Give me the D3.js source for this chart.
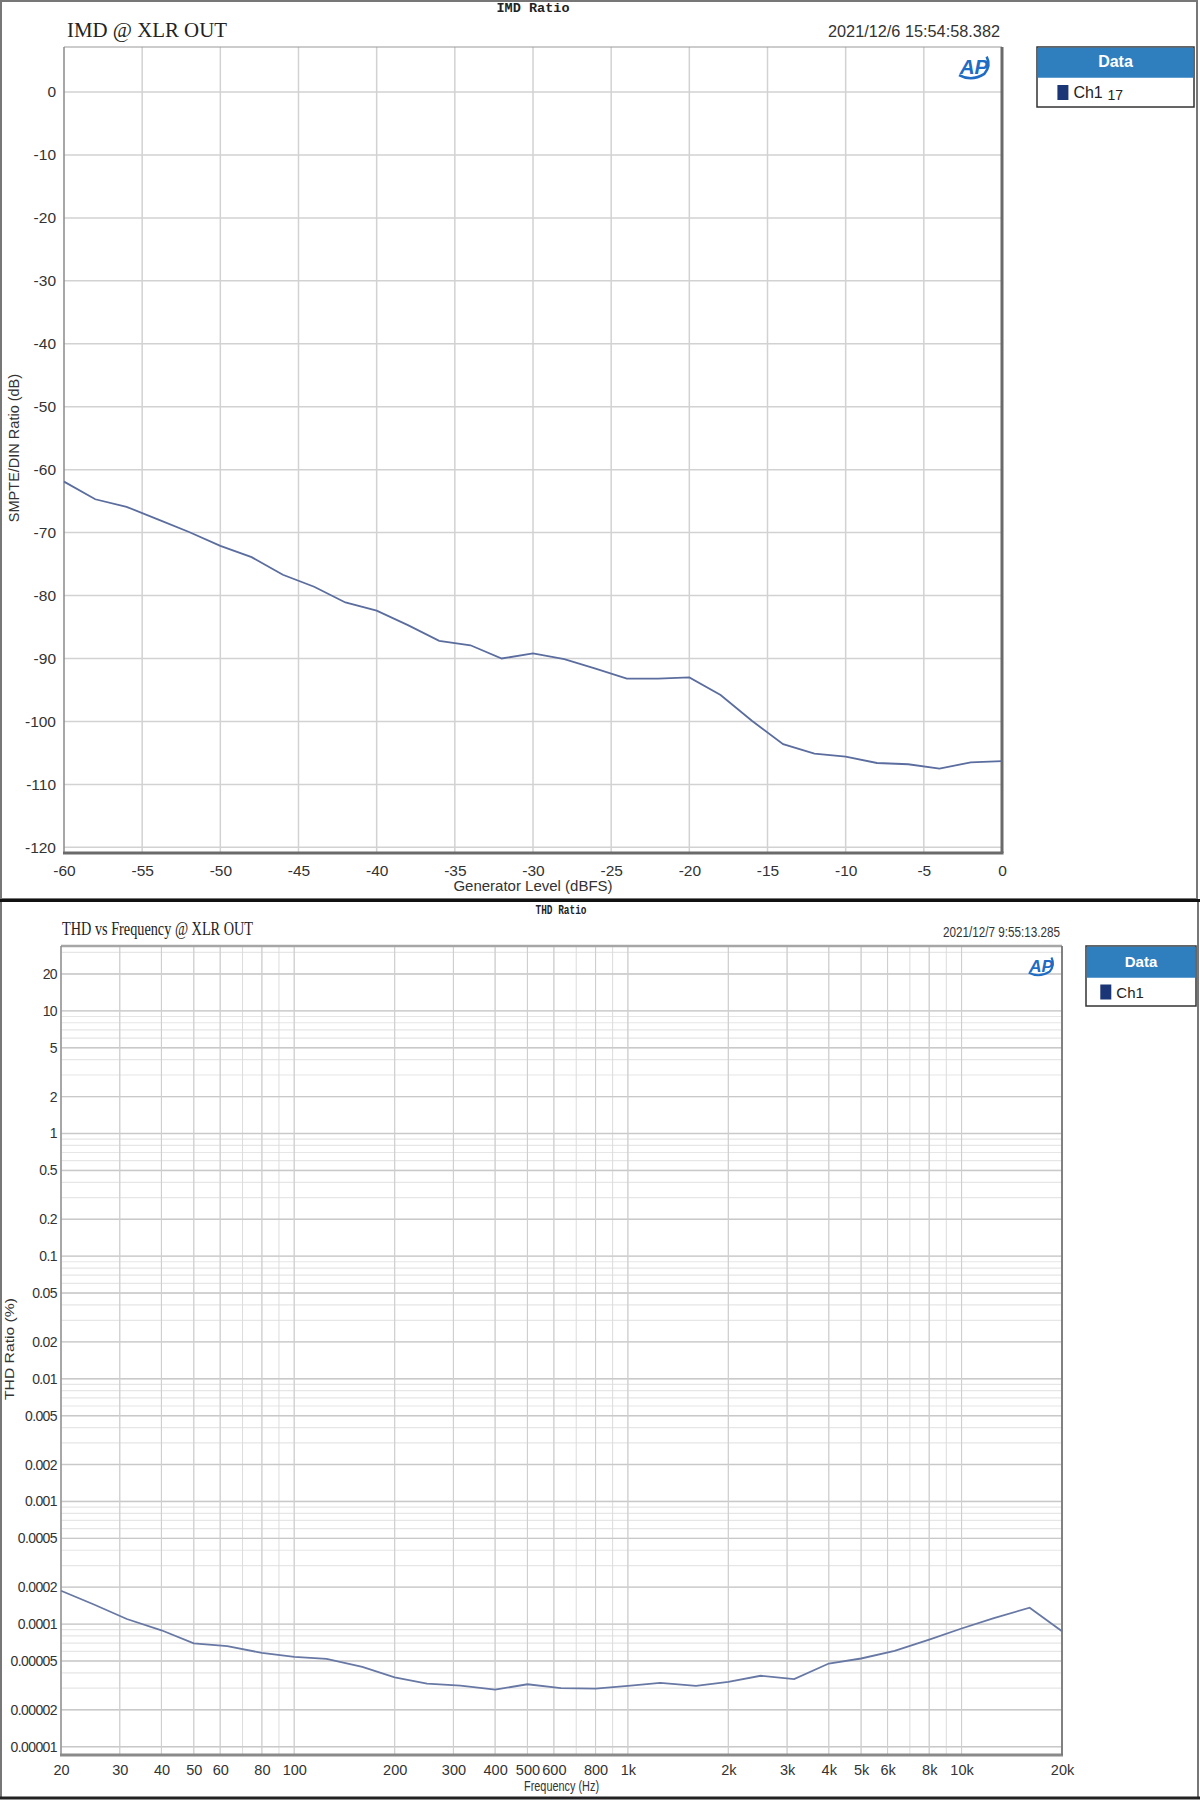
<!DOCTYPE html>
<html><head><meta charset="utf-8">
<script src="https://cdn.jsdelivr.net/npm/d3@7"></script>
<style>
body{margin:0;background:#fff;}
svg{display:block;}
.tick text{font-family:"Liberation Sans",Arial,sans-serif;fill:#333;}
</style></head>
<body>
<svg id="c" width="1200" height="1800"></svg>
<script>
// ---------- Data: IMD chart ----------
const imdLevels = [-60,-58,-56,-54,-52,-50,-48,-46,-44,-42,-40,-38,-36,-34,-32,-30,-28,-26,-24,-22,-20,-18,-16,-14,-12,-10,-8,-6,-4,-2,0];
const imdValues = [-61.9,-64.7,-65.9,-67.9,-69.9,-72.1,-73.9,-76.7,-78.6,-81.1,-82.4,-84.7,-87.2,-87.9,-90.0,-89.2,-90.1,-91.6,-93.2,-93.2,-93.0,-95.8,-99.9,-103.6,-105.1,-105.6,-106.6,-106.8,-107.5,-106.5,-106.3];
const imdXTicks = [-60,-55,-50,-45,-40,-35,-30,-25,-20,-15,-10,-5,0];
const imdYTicks = [0,-10,-20,-30,-40,-50,-60,-70,-80,-90,-100,-110,-120];

// ---------- Data: THD chart ----------
const thdFreqs = [20,25,31.5,40,50,63,80,100,125,160,200,250,315,400,500,630,800,1000,1250,1600,2000,2500,3150,4000,5000,6300,8000,10000,12500,16000,20000];
const thdValues = [1.87e-4,1.45e-4,1.10e-4,8.9e-5,6.95e-5,6.6e-5,5.82e-5,5.4e-5,5.2e-5,4.48e-5,3.67e-5,3.27e-5,3.15e-5,2.92e-5,3.23e-5,3.0e-5,2.98e-5,3.13e-5,3.31e-5,3.13e-5,3.38e-5,3.79e-5,3.56e-5,4.77e-5,5.24e-5,6.04e-5,7.48e-5,9.2e-5,1.12e-4,1.36e-4,8.75e-5];
const thdXTicks = [20,30,40,50,60,80,100,200,300,400,500,600,800,1000,2000,3000,4000,5000,6000,8000,10000,20000];
const thdXLabels = ["20","30","40","50","60","80","100","200","300","400","500","600","800","1k","2k","3k","4k","5k","6k","8k","10k","20k"];
const thdYTicks = [20,10,5,2,1,0.5,0.2,0.1,0.05,0.02,0.01,0.005,0.002,0.001,0.0005,0.0002,0.0001,0.00005,0.00002,0.00001];
const thdYLabels = ["20","10","5","2","1","0.5","0.2","0.1","0.05","0.02","0.01","0.005","0.002","0.001","0.0005","0.0002","0.0001","0.00005","0.00002","0.00001"];

const svg = d3.select("#c");
const SANS = '"Liberation Sans",Arial,sans-serif';
const SERIF = '"Liberation Serif","Times New Roman",serif';
const MONO = '"Liberation Mono","Courier New",monospace';

// outer frames
svg.append("rect").attr("x",1).attr("y",1).attr("width",1196).attr("height",898).attr("fill","none").attr("stroke","#777").attr("stroke-width",2);
svg.append("rect").attr("x",1).attr("y",901).attr("width",1197).attr("height",897).attr("fill","none").attr("stroke","#777").attr("stroke-width",2);
svg.append("line").attr("x1",0).attr("x2",1200).attr("y1",900.5).attr("y2",900.5).attr("stroke","#111").attr("stroke-width",3);
svg.append("line").attr("x1",0).attr("x2",1200).attr("y1",1798).attr("y2",1798).attr("stroke","#222").attr("stroke-width",3);

function apLogo(g, cx, cy, s){
  const lg = g.append("g").attr("transform",`translate(${cx},${cy}) scale(${s})`);
  lg.append("text").attr("x",0).attr("y",6).attr("text-anchor","middle")
    .attr("font-family",SANS).attr("font-style","italic").attr("font-weight","bold")
    .attr("font-size",18).attr("fill","#1f6cc4").text("AP");
  lg.append("path").attr("d","M-13,7 Q-2,13 9,6 Q15,-1 11,-9").attr("fill","none").attr("stroke","#1f6cc4").attr("stroke-width",2.2);
}

function legend(x,y,w,hh,h,label,extra,fs){
  const g = svg.append("g");
  g.append("rect").attr("x",x).attr("y",y).attr("width",w).attr("height",h).attr("fill","#fff").attr("stroke","#333").attr("stroke-width",1.5);
  g.append("rect").attr("x",x+0.75).attr("y",y+0.75).attr("width",w-1.5).attr("height",hh).attr("fill","#2f7fbf");
  g.append("text").attr("x",x+w/2).attr("y",y+hh*0.68).attr("text-anchor","middle").attr("fill","#fff")
    .attr("font-family",SANS).attr("font-weight","bold").attr("font-size",fs).text("Data");
  const ry = y+hh+(h-hh)/2;
  g.append("rect").attr("x",x+w*0.13).attr("y",ry-7).attr("width",11).attr("height",15).attr("fill","#1b3677");
  g.append("text").attr("x",x+w*0.13+16).attr("y",ry+6).attr("font-family",SANS).attr("font-size",fs).attr("fill","#222").text(label);
  if(extra) g.append("text").attr("x",x+w*0.13+50).attr("y",ry+8).attr("font-family",SANS).attr("font-size",fs-2).attr("fill","#222").text(extra);
}

// ================= TOP: IMD =================
{
  const L=64,R=1002,T=47,B=853;
  const x = d3.scaleLinear().domain([-60,0]).range([L,R]);
  const y = d3.scaleLinear().domain([7.15,-120.9]).range([T,B]);
  const g = svg.append("g");
  // grid
  g.append("g").selectAll("line").data(imdXTicks.slice(1,-1)).join("line")
    .attr("x1",d=>x(d)).attr("x2",d=>x(d)).attr("y1",T).attr("y2",B).attr("stroke","#d2d2d2").attr("stroke-width",1.5);
  g.append("g").selectAll("line").data(imdYTicks).join("line")
    .attr("x1",L).attr("x2",R).attr("y1",d=>y(d)).attr("y2",d=>y(d)).attr("stroke","#d2d2d2").attr("stroke-width",1.5);
  // axes
  const ax = g.append("g").attr("transform",`translate(0,${B})`).call(d3.axisBottom(x).tickValues(imdXTicks).tickSize(0).tickPadding(12).tickFormat(d=>d3.format("d")(d).replace("−","-")));
  ax.select(".domain").remove();
  ax.selectAll("text").attr("font-size",15.5);
  const ay = g.append("g").attr("transform",`translate(${L},0)`).call(d3.axisLeft(y).tickValues(imdYTicks).tickSize(0).tickPadding(8).tickFormat(d=>String(d)));
  ay.select(".domain").remove();
  ay.selectAll("text").attr("font-size",15.5);
  // borders
  g.append("line").attr("x1",L).attr("x2",R).attr("y1",T).attr("y2",T).attr("stroke","#9a9a9a").attr("stroke-width",1.2);
  g.append("line").attr("x1",L).attr("x2",L).attr("y1",T).attr("y2",B).attr("stroke","#8a8a8a").attr("stroke-width",1.5);
  g.append("line").attr("x1",L-1).attr("x2",R+1.5).attr("y1",B).attr("y2",B).attr("stroke","#6a6a6a").attr("stroke-width",3);
  g.append("line").attr("x1",R).attr("x2",R).attr("y1",T).attr("y2",B).attr("stroke","#6a6a6a").attr("stroke-width",3);
  // line
  g.append("path").datum(imdLevels.map((d,i)=>[d,imdValues[i]]))
    .attr("d",d3.line().x(d=>x(d[0])).y(d=>y(d[1])))
    .attr("fill","none").attr("stroke","#5b6d9e").attr("stroke-width",1.8);
  // texts
  svg.append("text").attr("x",533).attr("y",12).attr("text-anchor","middle").attr("font-family",MONO).attr("font-weight","bold").attr("font-size",12.5).attr("fill","#222").attr("textLength",73).attr("lengthAdjust","spacingAndGlyphs").text("IMD Ratio");
  svg.append("text").attr("x",67).attr("y",37).attr("font-family",SERIF).attr("font-size",21).attr("fill","#222").attr("textLength",160).attr("lengthAdjust","spacingAndGlyphs").text("IMD @ XLR OUT");
  svg.append("text").attr("x",1000).attr("y",37).attr("text-anchor","end").attr("font-family",SANS).attr("font-size",16.5).attr("fill","#333").attr("textLength",172).attr("lengthAdjust","spacingAndGlyphs").text("2021/12/6 15:54:58.382");
  svg.append("text").attr("x",533).attr("y",891).attr("text-anchor","middle").attr("font-family",SANS).attr("font-size",15).attr("fill","#333").text("Generator Level (dBFS)");
  svg.append("text").attr("transform","translate(19,448) rotate(-90)").attr("text-anchor","middle").attr("font-family",SANS).attr("font-size",14.5).attr("fill","#333").text("SMPTE/DIN Ratio (dB)");
  apLogo(svg, 974, 67, 1.15);
  legend(1037,47,157,30,60,"Ch1","17",16);
}

// ================= BOTTOM: THD =================
{
  const L=61,R=1062,T=946,B=1755;
  const x = d3.scaleLog().domain([20,20000]).range([L,R]);
  const y = d3.scaleLog().domain([33.8,8.56e-6]).range([T,B]);
  const g = svg.append("g");
  // minor grid
  const minorX=[], minorY=[];
  for(let e=1;e<=4;e++) for(let m=1;m<=9;m++){const v=m*Math.pow(10,e); if(v>=20&&v<=20000) minorX.push(v);}
  for(let e=-5;e<=1;e++) for(let m=1;m<=9;m++){const v=m*Math.pow(10,e); if(v>=8.6e-6&&v<=33) minorY.push(v);}
  g.append("g").selectAll("line").data(minorY).join("line")
    .attr("x1",L).attr("x2",R).attr("y1",d=>y(d)).attr("y2",d=>y(d)).attr("stroke","#e6e6e6").attr("stroke-width",1.2);
  g.append("g").selectAll("line").data(minorX).join("line")
    .attr("x1",d=>x(d)).attr("x2",d=>x(d)).attr("y1",T).attr("y2",B).attr("stroke","#dcdcdc").attr("stroke-width",1);
  g.append("g").selectAll("line").data(thdYTicks).join("line")
    .attr("x1",L).attr("x2",R).attr("y1",d=>y(d)).attr("y2",d=>y(d)).attr("stroke","#c9c9c9").attr("stroke-width",1.4);
  g.append("g").selectAll("line").data(thdXTicks).join("line")
    .attr("x1",d=>x(d)).attr("x2",d=>x(d)).attr("y1",T).attr("y2",B).attr("stroke","#cfcfcf").attr("stroke-width",1.1);
  // axes
  const ax = g.append("g").attr("transform",`translate(0,${B})`).call(d3.axisBottom(x).tickValues(thdXTicks).tickSize(0).tickPadding(10).tickFormat((d,i)=>thdXLabels[i]));
  ax.select(".domain").remove();
  ax.selectAll("text").attr("font-size",14.5).attr("transform","scale(1,1)");
  const ay = g.append("g").attr("transform",`translate(${L},0)`).call(d3.axisLeft(y).tickValues(thdYTicks).tickSize(0).tickPadding(4).tickFormat((d,i)=>thdYLabels[i]));
  ay.select(".domain").remove();
  ay.selectAll("text").attr("font-size",14).attr("letter-spacing",-0.6);
  // borders
  g.append("line").attr("x1",L).attr("x2",R).attr("y1",T).attr("y2",T).attr("stroke","#a6a6a6").attr("stroke-width",2.5);
  g.append("line").attr("x1",L).attr("x2",L).attr("y1",T).attr("y2",B).attr("stroke","#8a8a8a").attr("stroke-width",1.3);
  g.append("line").attr("x1",L-1).attr("x2",R+1).attr("y1",B).attr("y2",B).attr("stroke","#8a8a8a").attr("stroke-width",2.8);
  g.append("line").attr("x1",R).attr("x2",R).attr("y1",T).attr("y2",B).attr("stroke","#777").attr("stroke-width",1.8);
  // line
  g.append("path").datum(thdFreqs.map((d,i)=>[d,thdValues[i]]))
    .attr("d",d3.line().x(d=>x(d[0])).y(d=>y(d[1])))
    .attr("fill","none").attr("stroke","#6878a4").attr("stroke-width",1.8);
  // texts
  svg.append("text").attr("x",561).attr("y",914).attr("text-anchor","middle").attr("font-family",MONO).attr("font-weight","bold").attr("font-size",12).attr("fill","#222").attr("textLength",51).attr("lengthAdjust","spacingAndGlyphs").text("THD Ratio");
  svg.append("text").attr("x",62).attr("y",935).attr("font-family",SERIF).attr("font-size",19).attr("fill","#222").attr("textLength",191).attr("lengthAdjust","spacingAndGlyphs").text("THD vs Frequency @ XLR OUT");
  svg.append("text").attr("x",1060).attr("y",937).attr("text-anchor","end").attr("font-family",SANS).attr("font-size",15).attr("fill","#333").attr("textLength",117).attr("lengthAdjust","spacingAndGlyphs").text("2021/12/7 9:55:13.285");
  svg.append("text").attr("x",561.5).attr("y",1791).attr("text-anchor","middle").attr("font-family",SANS).attr("font-size",14).attr("fill","#333").attr("textLength",75).attr("lengthAdjust","spacingAndGlyphs").text("Frequency (Hz)");
  svg.append("text").attr("transform","translate(14,1349) rotate(-90)").attr("text-anchor","middle").attr("font-family",SANS).attr("font-size",13).attr("fill","#333").attr("textLength",102).attr("lengthAdjust","spacingAndGlyphs").text("THD Ratio (%)");
  apLogo(svg, 1041, 966, 0.95);
  legend(1086,946,110,31,60,"Ch1",null,15);
}
</script>
</body></html>
